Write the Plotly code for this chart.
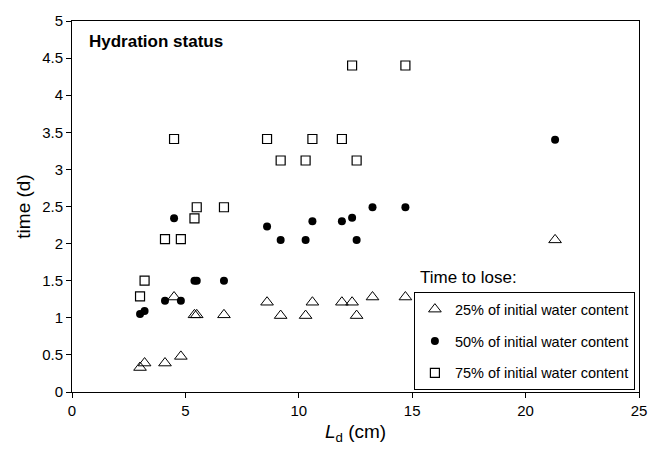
import plotly.graph_objects as go

ld_cm = [3.0, 3.2, 4.1, 4.5, 4.8, 5.4, 5.5, 6.7, 8.6, 9.2, 10.3, 10.6, 11.9, 12.35, 12.55, 13.25, 14.7, 21.3]
t25 = [0.33, 0.39, 0.39, 1.28, 0.48, 1.04, 1.04, 1.04, 1.21, 1.03, 1.03, 1.21, 1.21, 1.21, 1.03, 1.28, 1.28, 2.05]
t50 = [1.05, 1.09, 1.23, 2.34, 1.23, 1.50, 1.50, 1.50, 2.23, 2.05, 2.05, 2.30, 2.30, 2.35, 2.05, 2.49, 2.49, 3.40]
t75 = [1.29, 1.50, 2.06, 3.41, 2.06, 2.34, 2.49, 2.49, 3.41, 3.12, 3.12, 3.41, 3.41, 4.40, 3.12, None, 4.40, None]

names = ["25% of initial water content", "50% of initial water content", "75% of initial water content"]
x_ticks = [0, 5, 10, 15, 20, 25]
y_ticks = [0, 0.5, 1, 1.5, 2, 2.5, 3, 3.5, 4, 4.5, 5]

fig = go.Figure()
fig.add_trace(go.Scatter(x=ld_cm, y=t25, mode="markers", name=names[0], legendgroup="a",
                         marker=dict(symbol="triangle-up-open", size=11, color="black", line=dict(width=1))))
fig.add_trace(go.Scatter(x=ld_cm, y=t50, mode="markers", name=names[1], legendgroup="b",
                         marker=dict(symbol="circle", size=8, color="black")))
fig.add_trace(go.Scatter(x=ld_cm, y=t75, mode="markers", name=names[2], legendgroup="c",
                         marker=dict(symbol="square-open", size=9, color="black", line=dict(width=1.2))))

axis_common = dict(showgrid=False, zeroline=False, showline=True, linecolor="black", linewidth=1,
                   mirror=True, ticks="outside", ticklen=5, tickcolor="black",
                   tickfont=dict(family="Liberation Sans, Arial", size=15, color="black"))

fig.update_layout(
    width=660, height=453,
    margin=dict(l=72, r=21, t=18, b=61),
    paper_bgcolor="white", plot_bgcolor="white",
    font=dict(family="Liberation Sans, Arial", color="black"),
    xaxis=dict(range=[0, 25], tickvals=x_ticks, ticktext=[str(v) for v in x_ticks],
               title=dict(text="<i>L</i><sub>d</sub> (cm)", font=dict(size=19), standoff=6),
               **axis_common),
    yaxis=dict(range=[0, 5], tickvals=y_ticks, ticktext=[f"{v:g}" for v in y_ticks],
               title=dict(text="time (d)", font=dict(size=19), standoff=6),
               **axis_common),
    legend=dict(x=0.603, y=0.269, xanchor="left", yanchor="top",
                bgcolor="white", bordercolor="black", borderwidth=1,
                font=dict(size=14.5), itemwidth=30, tracegroupgap=10),
    showlegend=True,
    annotations=[
        dict(text="<b>Hydration status</b>", x=0.026, y=0.975, xref="paper", yref="paper",
             xanchor="left", yanchor="top", showarrow=False, font=dict(size=17)),
        dict(text="Time to lose:", x=0.61, y=0.277, xref="paper", yref="paper",
             xanchor="left", yanchor="bottom", showarrow=False, font=dict(size=17)),
    ],
)

fig.write_html("out.html")
